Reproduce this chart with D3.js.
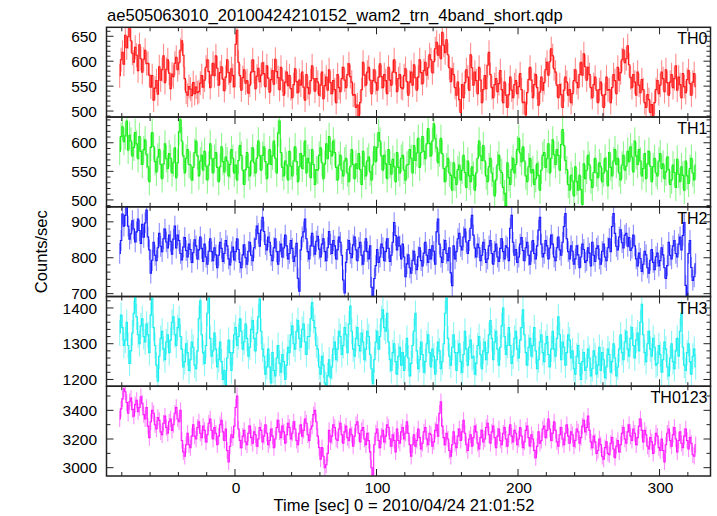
<!DOCTYPE html>
<html>
<head>
<meta charset="utf-8">
<script src="https://cdn.jsdelivr.net/npm/d3@7"></script>
<style>
  html, body { margin: 0; padding: 0; background: #fff; }
  svg { display: block; font-family: "Liberation Sans", Arial, Helvetica, sans-serif; }
</style>
</head>
<body>
<svg id="chart" width="717" height="516"></svg>
<script>
// ---------------- DATA ----------------
const titleText = "ae505063010_20100424210152_wam2_trn_4band_short.qdp";
const xLabelText = "Time [sec] 0 = 2010/04/24 21:01:52";
const yLabelText = "Counts/sec";
const panelNames = ["TH0", "TH1", "TH2", "TH3", "TH0123"];
const panelColors = ["#ff1a1a", "#1aee1a", "#1a1aff", "#1aeeee", "#ff1aff"];
const xTickLabels = [0, 100, 200, 300];
// bin centres (1 s bins)
const times = d3.range(-81.5, 326, 1);

const th0 = [
  571,603, 618,594, 652,627, 649,672, 641,616, 598,628, 612,581, 633,605, 578,604, 622,595,
  596,572, 548,571, 522,546, 561,534, 589,562, 583,611, 557,584, 603,576, 545,574, 569,596,
  608,583, 597,622, 641,612, 565,538, 532,549, 544,531, 557,535, 548,537, 539,556, 571,548,
  562,588, 603,579, 547,572, 596,571, 611,586, 552,577, 589,564, 541,568, 603,577, 558,585,
  571,549, 634,662, 598,571, 542,567, 583,556, 561,536, 552,578, 603,579, 545,570, 586,559,
  572,597, 575,549, 591,566, 538,563, 581,554, 604,579, 567,543, 588,562, 532,558, 578,551,
  571,545, 527,553, 585,559, 537,562, 552,578, 548,522, 573,547, 535,561, 591,565, 540,565,
  558,532, 552,578, 525,551, 568,542, 583,557, 535,561, 543,517, 573,547, 539,565, 588,562,
  547,573, 595,569, 558,532, 533,507, 512,489, 517,543, 598,572, 552,578, 588,562, 535,561,
  583,557, 542,568, 595,569, 547,573, 561,535, 588,562, 552,578, 603,577, 539,565, 573,547,
  545,571, 585,559, 532,558, 578,552, 593,567, 542,568, 603,577, 555,581, 598,572, 587,613,
  603,577, 599,625, 638,612, 631,605, 658,632, 617,643, 613,587, 559,585, 573,547, 532,558,
  523,497, 553,527, 557,583, 568,542, 613,587, 552,578, 561,535, 588,562, 517,543, 571,545,
  592,618, 573,547, 527,553, 565,539, 555,581, 543,517, 558,532, 507,533, 568,542, 527,553,
  561,535, 549,575, 543,517, 518,492, 537,563, 588,562, 527,553, 573,547, 512,538, 568,542,
  557,583, 598,572, 599,625, 611,585, 578,552, 527,553, 533,507, 542,568, 558,532, 543,517,
  535,561, 583,557, 547,573, 598,572, 615,589, 562,588, 573,547, 527,553, 568,542, 517,543,
  558,532, 507,533, 568,542, 543,517, 547,573, 561,535, 588,562, 577,603, 623,597, 605,631,
  593,567, 547,573, 558,532, 578,552, 537,563, 543,517, 507,533, 523,497, 513,487, 517,543,
  561,535, 552,578, 565,539, 583,557, 532,558, 573,547, 565,591, 542,568, 553,527, 575,549,
  537,563, 581,555, 532,558, 575,549
];
const th1 = [
  585,611, 628,602, 612,638, 587,613, 603,577, 592,618, 598,572, 611,585, 562,588, 605,579,
  558,532, 592,618, 593,567, 549,575, 588,562, 537,563, 598,572, 555,581, 573,547, 565,591,
  539,565, 619,640, 603,577, 547,573, 588,562, 561,535, 557,583, 603,577, 542,568, 578,552,
  585,559, 535,561, 598,572, 547,573, 583,557, 532,558, 593,567, 549,575, 568,542, 562,588,
  573,547, 561,535, 569,595, 578,552, 527,553, 583,557, 542,568, 591,565, 547,573, 603,577,
  552,578, 593,567, 537,563, 588,562, 577,603, 573,547, 617,638, 583,557, 542,568, 561,535,
  585,559, 542,568, 593,567, 532,558, 581,555, 577,603, 547,573, 565,539, 588,562, 527,553,
  552,578, 591,565, 537,563, 598,572, 611,585, 577,603, 583,557, 535,561, 578,552, 542,568,
  573,547, 532,558, 588,562, 537,563, 555,581, 553,527, 585,559, 542,568, 575,549, 535,561,
  593,567, 592,618, 603,577, 552,578, 563,537, 588,562, 545,571, 558,532, 583,557, 547,573,
  578,552, 535,561, 562,588, 573,547, 595,569, 582,608, 557,583, 611,585, 572,598, 625,599,
  577,603, 633,607, 591,565, 582,608, 581,555, 532,558, 573,547, 543,517, 565,539, 527,553,
  561,535, 552,578, 548,522, 568,542, 532,558, 543,517, 547,573, 603,577, 569,595, 568,542,
  532,558, 573,547, 533,507, 535,561, 578,552, 548,522, 511,490, 565,539, 527,553, 573,547,
  562,588, 608,582, 567,593, 568,542, 532,558, 573,547, 553,527, 537,563, 543,517, 552,578,
  583,557, 572,598, 547,573, 605,579, 562,588, 578,552, 597,623, 595,569, 553,527, 517,543,
  533,507, 558,532, 517,543, 518,492, 563,537, 552,578, 561,535, 522,548, 573,547, 539,565,
  558,532, 547,573, 551,525, 583,557, 542,568, 588,562, 573,547, 535,561, 578,552, 559,585,
  567,593, 575,549, 603,577, 562,588, 568,542, 555,581, 537,563, 585,559, 532,558, 573,547,
  542,568, 581,555, 563,537, 549,575, 553,527, 535,561, 548,522, 571,545, 532,558, 543,517,
  568,542, 529,555, 573,547, 535,561
];
const th2 = [
  812,848, 922,888, 918,950, 888,852, 867,903, 880,844, 872,908, 876,840, 893,857, 897,933,
  858,822, 757,793, 843,807, 792,828, 868,832, 817,853, 880,844, 827,863, 846,810, 852,888,
  827,863, 848,812, 794,830, 856,820, 802,838, 823,787, 814,850, 833,797, 822,858, 826,790,
  838,802, 782,818, 853,817, 792,828, 808,772, 807,843, 826,790, 812,848, 833,797, 780,816,
  830,794, 817,853, 823,787, 772,808, 836,800, 782,818, 843,807, 792,828, 852,888, 868,832,
  877,913, 873,837, 822,858, 843,807, 792,828, 853,817, 782,818, 838,802, 827,863, 833,797,
  812,848, 826,790, 804,840, 743,707, 822,858, 872,908, 853,817, 797,833, 868,832, 810,846,
  860,824, 802,838, 853,817, 792,828, 873,837, 812,848, 833,797, 822,858, 843,807, 738,702,
  787,823, 848,812, 800,836, 858,822, 792,828, 843,807, 782,818, 853,817, 797,833, 718,690,
  742,778, 823,787, 802,838, 828,792, 817,853, 826,790, 807,843, 898,862, 822,858, 833,797,
  838,802, 747,783, 808,772, 757,793, 818,782, 767,803, 828,792, 777,813, 843,807, 787,823,
  797,833, 818,782, 872,908, 838,802, 787,823, 848,812, 792,828, 758,722, 833,797, 817,853,
  868,832, 822,858, 880,844, 812,848, 882,918, 863,827, 802,838, 828,792, 807,843, 823,787,
  797,833, 848,812, 782,818, 838,802, 790,826, 853,817, 797,833, 828,792, 882,918, 843,807,
  823,787, 802,838, 856,820, 792,828, 843,807, 782,818, 848,812, 797,833, 877,913, 838,802,
  812,848, 833,797, 827,863, 838,802, 792,828, 858,822, 807,843, 887,923, 853,817, 797,833,
  818,782, 797,833, 808,772, 802,838, 823,787, 792,828, 813,777, 843,807, 790,826, 833,797,
  782,818, 838,802, 792,828, 853,817, 887,923, 868,832, 822,858, 878,842, 827,863, 868,832,
  856,820, 827,863, 833,797, 777,813, 798,762, 782,818, 808,772, 757,793, 823,787, 767,803,
  813,777, 792,828, 808,772, 742,778, 843,807, 797,833, 848,812, 802,838, 858,822, 862,898,
  723,690, 812,848, 773,737, 747,783
];
const th3 = [
  1330,1380, 1345,1295, 1310,1360, 1295,1245, 1280,1330, 1385,1430, 1375,1325, 1300,1350, 1370,1320, 1305,1355,
  1325,1275, 1380,1428, 1345,1295, 1240,1195, 1265,1315, 1335,1285, 1255,1305, 1325,1275, 1310,1360, 1375,1325,
  1295,1345, 1370,1320, 1285,1235, 1250,1300, 1275,1225, 1255,1305, 1290,1240, 1230,1280, 1370,1420, 1325,1275,
  1245,1295, 1385,1428, 1315,1265, 1280,1330, 1285,1235, 1255,1305, 1250,1200, 1225,1185, 1260,1310, 1275,1225,
  1275,1325, 1345,1295, 1320,1370, 1335,1285, 1305,1355, 1315,1265, 1290,1340, 1365,1315, 1280,1330, 1375,1425,
  1335,1285, 1265,1215, 1235,1285, 1235,1190, 1275,1225, 1210,1260, 1295,1245, 1220,1270, 1250,1200, 1240,1290,
  1275,1325, 1350,1300, 1285,1335, 1365,1315, 1290,1340, 1355,1305, 1270,1320, 1320,1370, 1415,1365, 1345,1295,
  1285,1235, 1215,1265, 1240,1190, 1185,1210, 1255,1205, 1235,1285, 1305,1255, 1285,1335, 1320,1270, 1295,1345,
  1325,1275, 1355,1405, 1335,1285, 1265,1315, 1345,1295, 1280,1330, 1305,1255, 1285,1335, 1320,1270, 1230,1188,
  1255,1305, 1335,1285, 1320,1370, 1395,1345, 1335,1385, 1305,1255, 1225,1275, 1300,1250, 1215,1265, 1290,1240,
  1275,1225, 1265,1315, 1260,1210, 1245,1295, 1335,1385, 1280,1230, 1255,1305, 1270,1220, 1250,1300, 1325,1275,
  1235,1285, 1265,1215, 1255,1305, 1280,1230, 1250,1300, 1385,1428, 1315,1265, 1240,1290, 1325,1275, 1225,1275,
  1300,1250, 1220,1270, 1335,1285, 1240,1290, 1310,1260, 1265,1215, 1245,1295, 1320,1270, 1230,1280, 1305,1255,
  1275,1325, 1365,1315, 1255,1305, 1335,1285, 1240,1290, 1350,1400, 1320,1270, 1295,1345, 1295,1245, 1265,1315,
  1335,1285, 1260,1310, 1345,1395, 1325,1275, 1240,1290, 1315,1265, 1295,1345, 1280,1230, 1255,1305, 1325,1275,
  1250,1300, 1320,1270, 1235,1285, 1335,1285, 1265,1315, 1375,1325, 1255,1305, 1290,1240, 1275,1325, 1310,1260,
  1280,1230, 1215,1265, 1295,1245, 1200,1250, 1275,1225, 1235,1285, 1260,1210, 1230,1280, 1265,1215, 1240,1290,
  1225,1275, 1255,1205, 1235,1285, 1270,1220, 1250,1300, 1260,1210, 1235,1285, 1325,1275, 1255,1305, 1335,1285,
  1265,1315, 1345,1295, 1260,1310, 1330,1280, 1360,1410, 1325,1275, 1250,1300, 1335,1285, 1265,1315, 1290,1240,
  1245,1295, 1270,1220, 1255,1305, 1285,1235, 1210,1260, 1300,1250, 1230,1280, 1315,1265, 1335,1385, 1290,1240,
  1225,1275, 1300,1250, 1215,1265, 1285,1235
];
const th0123 = [
  3340,3410, 3480,3550, 3530,3455, 3380,3460, 3485,3405, 3360,3440, 3470,3390, 3420,3495, 3450,3370, 3340,3420,
  3290,3210, 3320,3400, 3380,3300, 3270,3350, 3330,3250, 3230,3310, 3360,3280, 3240,3320, 3340,3260, 3300,3380,
  3420,3340, 3320,3400, 3190,3110, 3080,3160, 3240,3160, 3140,3220, 3300,3220, 3200,3280, 3320,3240, 3210,3290,
  3260,3180, 3230,3310, 3340,3260, 3200,3280, 3240,3160, 3220,3300, 3330,3250, 3190,3270, 3120,3040, 3150,3230,
  3210,3290, 3420,3500, 3270,3190, 3140,3220, 3260,3180, 3160,3240, 3290,3210, 3170,3250, 3230,3150, 3200,3280,
  3260,3180, 3220,3300, 3240,3160, 3190,3270, 3220,3140, 3200,3280, 3330,3250, 3210,3290, 3250,3170, 3230,3310,
  3280,3200, 3240,3320, 3270,3190, 3160,3240, 3300,3220, 3260,3340, 3310,3230, 3190,3270, 3290,3370, 3400,3320,
  3220,3140, 3060,3140, 3080,3000, 3020,3100, 3260,3180, 3220,3300, 3280,3200, 3190,3270, 3310,3230, 3170,3250,
  3290,3210, 3190,3270, 3230,3150, 3220,3300, 3320,3240, 3180,3260, 3280,3200, 3160,3240, 3190,3110, 3000,2950,
  3160,3240, 3270,3190, 3140,3220, 3260,3180, 3220,3300, 3280,3200, 3150,3230, 3190,3110, 3270,3190, 3170,3250,
  3280,3200, 3240,3320, 3240,3160, 3080,3160, 3230,3150, 3190,3270, 3210,3130, 3170,3250, 3280,3200, 3160,3240,
  3230,3150, 3180,3260, 3300,3220, 3380,3460, 3290,3210, 3160,3240, 3200,3120, 3080,3160, 3250,3170, 3140,3220,
  3270,3190, 3250,3330, 3240,3160, 3120,3200, 3230,3150, 3210,3290, 3250,3170, 3130,3210, 3260,3180, 3200,3280,
  3310,3230, 3170,3250, 3290,3210, 3140,3220, 3270,3190, 3160,3240, 3280,3200, 3150,3230, 3300,3220, 3180,3260,
  3240,3160, 3200,3280, 3220,3140, 3180,3260, 3290,3210, 3150,3230, 3200,3120, 3070,3150, 3250,3170, 3190,3270,
  3290,3210, 3260,3340, 3270,3190, 3240,3320, 3260,3180, 3150,3230, 3280,3200, 3160,3240, 3300,3220, 3170,3250,
  3230,3150, 3190,3270, 3250,3170, 3210,3290, 3330,3250, 3280,3360, 3260,3180, 3140,3220, 3180,3100, 3120,3200,
  3160,3080, 3060,3140, 3180,3100, 3090,3170, 3210,3130, 3070,3150, 3190,3110, 3160,3240, 3280,3200, 3170,3250,
  3300,3220, 3190,3270, 3240,3160, 3210,3290, 3340,3260, 3180,3260, 3230,3150, 3130,3210, 3180,3100, 3160,3240,
  3220,3140, 3120,3200, 3120,3040, 3160,3240, 3270,3190, 3150,3230, 3280,3200, 3110,3190, 3250,3170, 3140,3220,
  3270,3190, 3130,3210, 3170,3090, 3080,3160
];
const panelValues = [th0, th1, th2, th3, th0123];
// 1-sigma error bar half-lengths per panel
const panelErrors = [24, 24, 29, 36, 57];
// y-axis ranges, labelled ticks and minor tick step per panel
const panelYDomains = [[488, 668], [488, 645], [692, 942], [1181, 1432], [2942, 3568]];
const panelYTickLabels = [[500, 550, 600, 650], [500, 550, 600], [700, 800, 900], [1200, 1300, 1400], [3000, 3200, 3400]];
const panelYMinorSteps = [10, 10, 20, 20, 100];

// ---------------- LAYOUT ----------------
const svg = d3.select("#chart");
const plotL = 106.5, plotR = 710.5, plotT = 27.3, panelH = 89.74;
const nP = panelNames.length;
const plotB = plotT + nP * panelH;
const x = d3.scaleLinear().domain([-90.8, 336]).range([plotL, plotR]);
const majorLen = 7, minorLen = 4;
const frameColor = "#222";
const tickFont = 15.5, textFont = 16.6;

const defs = svg.append("defs");

panelNames.forEach((name, p) => {
  const y0 = plotT + p * panelH, y1 = y0 + panelH;
  const y = d3.scaleLinear().domain(panelYDomains[p]).range([y1, y0]);
  const vals = panelValues[p];
  const err = panelErrors[p];
  const col = panelColors[p];
  const data = times.map((t, i) => ({ t, v: vals[i] })).filter(d => d.v !== undefined);

  defs.append("clipPath").attr("id", "clip" + p)
    .append("rect").attr("x", plotL).attr("y", y0).attr("width", plotR - plotL).attr("height", panelH);

  const g = svg.append("g").attr("clip-path", "url(#clip" + p + ")");

  // error bars
  g.selectAll("line.err").data(data).enter().append("line")
    .attr("class", "err")
    .attr("x1", d => x(d.t)).attr("x2", d => x(d.t))
    .attr("y1", d => y(d.v - err)).attr("y2", d => y(d.v + err))
    .attr("stroke", col).attr("stroke-opacity", 0.5).attr("stroke-width", 1.1);

  // step line through bins
  const line = d3.line().x(d => x(d.t)).y(d => y(d.v)).curve(d3.curveStep);
  g.append("path").datum(data)
    .attr("d", line)
    .attr("fill", "none").attr("stroke", col).attr("stroke-width", 1.1);

  // y ticks (left and right)
  const step = panelYMinorSteps[p];
  const yMinor = d3.range(Math.ceil(panelYDomains[p][0] / step) * step, panelYDomains[p][1], step);
  const tg = svg.append("g");
  yMinor.forEach(v => {
    const major = panelYTickLabels[p].includes(v);
    const L = major ? majorLen : minorLen;
    tg.append("line").attr("x1", plotL).attr("x2", plotL + L).attr("y1", y(v)).attr("y2", y(v))
      .attr("stroke", frameColor).attr("stroke-width", 1);
    tg.append("line").attr("x1", plotR).attr("x2", plotR - L).attr("y1", y(v)).attr("y2", y(v))
      .attr("stroke", frameColor).attr("stroke-width", 1);
  });
  panelYTickLabels[p].forEach(v => {
    svg.append("text").attr("x", plotL - 9.5).attr("y", y(v)).attr("dy", "0.36em")
      .attr("text-anchor", "end").attr("font-size", tickFont).attr("fill", "#000").text(v);
  });

  // x ticks (top and bottom of each panel)
  d3.range(-80, 336, 20).forEach(t => {
    const major = t % 100 === 0;
    const L = major ? majorLen : minorLen;
    tg.append("line").attr("x1", x(t)).attr("x2", x(t)).attr("y1", y0).attr("y2", y0 + L)
      .attr("stroke", frameColor).attr("stroke-width", 1);
    tg.append("line").attr("x1", x(t)).attr("x2", x(t)).attr("y1", y1).attr("y2", y1 - L)
      .attr("stroke", frameColor).attr("stroke-width", 1);
  });

  // panel frame
  svg.append("rect").attr("x", plotL).attr("y", y0).attr("width", plotR - plotL).attr("height", panelH)
    .attr("fill", "none").attr("stroke", frameColor).attr("stroke-width", 1.5);

  // panel name
  svg.append("text").attr("x", plotR - 3).attr("y", y0 + 17)
    .attr("text-anchor", "end").attr("font-size", tickFont + 0.5).attr("fill", "#000").text(name);
});

// x tick labels
xTickLabels.forEach(t => {
  svg.append("text").attr("x", x(t) + 1).attr("y", plotB + 17)
    .attr("text-anchor", "middle").attr("font-size", tickFont).attr("fill", "#000").text(t);
});

// title
svg.append("text").attr("x", plotL + 0.5).attr("y", 20.5)
  .attr("font-size", textFont).attr("fill", "#000").text(titleText);

// axis labels
svg.append("text").attr("x", 404).attr("y", plotB + 35)
  .attr("text-anchor", "middle").attr("font-size", textFont).attr("fill", "#000").text(xLabelText);
svg.append("text").attr("transform", `translate(47,${(plotT + plotB) / 2}) rotate(-90)`)
  .attr("text-anchor", "middle").attr("font-size", textFont).attr("fill", "#000").text(yLabelText);
</script>
</body>
</html>
